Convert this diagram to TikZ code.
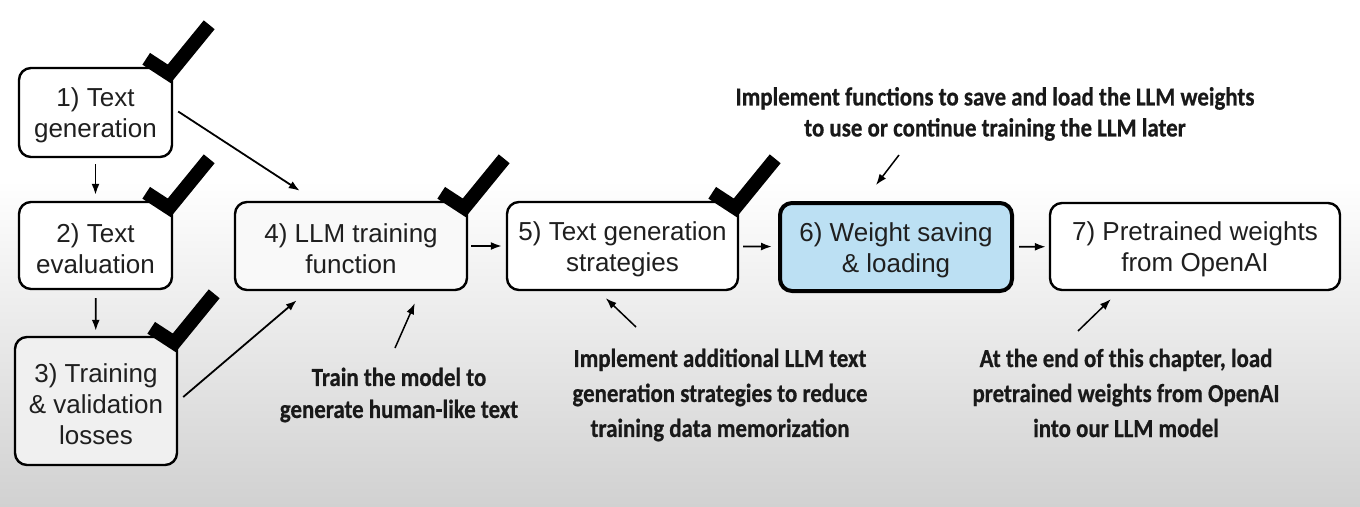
\documentclass[tikz,border=0pt]{standalone}
\usepackage{fontspec}
\setmainfont{Liberation Sans}
\newfontfamily\annotfont{Carlito}[BoldFont={* Bold}, BoldFeatures={FakeStretch=0.88, FakeBold=0.6}]
\usetikzlibrary{arrows.meta}
\definecolor{boxblue}{HTML}{BCE0F3}
\newcommand\lowstrut{\rule{0pt}{25pt}}
\tikzset{
  stepbox/.style={draw=black, line width=2.4pt, rounded corners=12pt, fill=white,
    align=center, inner sep=0pt, font=\fontsize{26}{31}\selectfont, text=black!88},
  hibox/.style={stepbox, line width=4pt, fill=boxblue},
  annot/.style={align=center, inner sep=0pt, text=black!90,
    font=\annotfont\bfseries\fontsize{26}{35}\selectfont},
  arr/.style={line width=1.8pt, -{Latex[length=11pt,width=8pt]}},
  tickmark/.style={line width=14pt, black, line join=miter, line cap=butt}
}
\newcommand\donetick[1]{\draw[tickmark] ([shift={(-27,-8)}]#1.north east) -- ([shift={(-4,7)}]#1.north east) -- ([shift={(36,-42)}]#1.north east);}
\begin{document}
\begin{tikzpicture}[x=1pt,y=-1pt]
\useasboundingbox (0,0) rectangle (1360,506);
\fill[white] (0,0) rectangle (1360,180);
\fill[top color=white, bottom color=gray!36] (0,180) rectangle (1360,506);

% step boxes
\node[stepbox, minimum width=153pt, minimum height=89pt] (b1) at (95.5,112.5) {\lowstrut 1) Text\\generation};
\node[stepbox, minimum width=153pt, minimum height=87pt] (b2) at (95.5,245.5) {\lowstrut 2) Text\\evaluation};
\node[stepbox, minimum width=162pt, minimum height=128pt, fill=gray!12] (b3) at (96,401) {\lowstrut 3) Training\\\& validation\\losses};
\node[stepbox, minimum width=232pt, minimum height=88pt, fill=gray!5] (b4) at (351,246) {\lowstrut 4) LLM training\\function};
\node[stepbox, minimum width=231pt, minimum height=88pt] (b5) at (622.5,246) {\lowstrut 5) Text generation\\strategies};
\node[hibox, minimum width=232pt, minimum height=88pt] (b6) at (896,247) {\lowstrut 6) Weight saving\\\& loading};
\node[stepbox, minimum width=290pt, minimum height=87pt] (b7) at (1195,246.5) {\lowstrut 7) Pretrained weights\\from OpenAI};

% check marks
\donetick{b1}
\donetick{b2}
\donetick{b3}
\donetick{b4}
\donetick{b5}

% flow arrows
\draw[arr, shorten <=6pt, shorten >=6pt] (b1) -- (b2);
\draw[arr, shorten <=8pt, shorten >=5pt] (b2) -- (b3);
\draw[arr] ([shift={(5,-1)}]b1.east) -- ([shift={(66,-10)}]b4.north west);
\draw[arr] ([shift={(5,-4)}]b3.east) -- ([shift={(63,9)}]b4.south west);
\draw[arr, shorten <=3pt, shorten >=4pt] (b4) -- (b5);
\draw[arr, shorten <=4pt, shorten >=6pt] (b5) -- (b6);
\draw[arr, shorten <=5pt, shorten >=3pt] (b6) -- (b7);

% annotations
\node[annot] (n6) at (995,114) {Implement functions to save and load the LLM weights\\[-4pt]to use or continue training the LLM later};
\node[annot] (n4) at (399,395) {Train the model to\\[-3pt]generate human-like text};
\node[annot] (n5) at (720,395) {Implement additional LLM text\\generation strategies to reduce\\training data memorization};
\node[annot] (n7) at (1126,393) {At the end of this chapter, load\\pretrained weights from OpenAI\\into our LLM model};

\coordinate (t6) at (899,155);
\coordinate (t4) at (395,348);
\coordinate (t5) at (636,327);
\coordinate (t7) at (1078,331);
\draw[arr, line width=1.5pt] (t6) -- ([shift={(98,-16)}]b6.north west);
\draw[arr, line width=1.5pt] (t4) -- ([shift={(181,12)}]b4.south west);
\draw[arr, line width=1.5pt] (t5) -- ([shift={(100,7)}]b5.south west);
\draw[arr, line width=1.5pt] (t7) -- ([shift={(62,8)}]b7.south west);
\end{tikzpicture}
\end{document}
